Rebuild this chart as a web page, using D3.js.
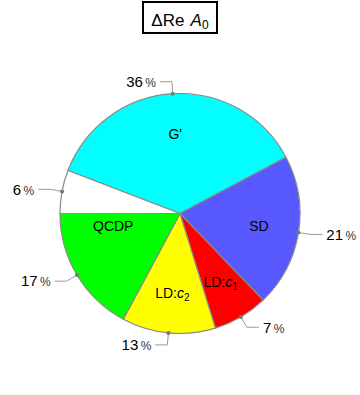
<!DOCTYPE html>
<html>
<head>
<meta charset="utf-8">
<script src="https://cdn.jsdelivr.net/npm/d3@7"></script>
<style>
  body { margin: 0; background: #fff; }
  svg text { font-family: "Liberation Sans", Arial, sans-serif; }
</style>
</head>
<body>
<svg id="chart" width="360" height="395"></svg>
<script>
// slice data, clockwise from the G' slice
const names = ["G'", "SD", "LD:c1", "LD:c2", "QCDP", ""]
const shares = [36.4, 20.6, 7.4, 12.6, 17.2, 5.8]
const colors = ["#00ffff", "#5858ff", "#ff0000", "#ffff00", "#00ff00", "#ffffff"]

const svg = d3.select('#chart')
const cx = 180, cy = 213.5, radius = 120
const startDeg = -69

// title box
svg.append('rect')
  .attr('x', 143).attr('y', 2)
  .attr('width', 74).attr('height', 31)
  .attr('fill', 'none').attr('stroke', '#000').attr('stroke-width', 2)

let title = svg.append('text')
  .attr('x', 180).attr('y', 26)
  .attr('text-anchor', 'middle')
  .attr('font-size', 17)
title.append('tspan').text('\u0394Re \u200a')
title.append('tspan').attr('font-style', 'italic').text('A')
title.append('tspan').attr('font-size', 12).attr('dy', 3).text('0')

const pie = d3.pie()
  .sort(null)
  .value(d => d)
  .startAngle(startDeg * Math.PI / 180)
  .endAngle(startDeg * Math.PI / 180 + 2 * Math.PI)

const arcs = pie(shares)
const arc = d3.arc().innerRadius(0).outerRadius(radius)

const g = svg.append('g').attr('transform', `translate(${cx}, ${cy})`)

g.selectAll('path.slice')
  .data(arcs)
  .enter()
  .append('path')
  .attr('class', 'slice')
  .attr('d', arc)
  .attr('fill', (d, i) => colors[i])
  .attr('stroke', '#8a8a8a')
  .attr('stroke-width', 1.2)

const polar = (r, a) => [r * Math.sin(a), -r * Math.cos(a)]
const mid = d => (d.startAngle + d.endAngle) / 2

// labels inside slices (QCDP sits a bit higher, as in the original)
const labelShift = { "QCDP": [20 * Math.PI / 180, 68] }

arcs.forEach((d, i) => {
  if (!names[i]) return
  let a = mid(d), r = 80
  if (labelShift[names[i]]) { a += labelShift[names[i]][0]; r = labelShift[names[i]][1] }
  const [x, y] = polar(r, a)
  let t = g.append('text')
    .attr('x', x).attr('y', y)
    .attr('dy', '0.35em')
    .attr('text-anchor', 'middle')
    .attr('font-size', 14)
  if (names[i].startsWith('LD:')) {
    t.append('tspan').text('LD:')
    t.append('tspan').attr('font-style', 'italic').text('c')
    t.append('tspan').attr('font-size', 10).attr('dy', 3).text(names[i].slice(4))
  } else {
    t.text(names[i])
  }
})

// callouts with percentages
arcs.forEach((d, i) => {
  const a = mid(d)
  const p0 = polar(radius, a)
  const p1 = polar(radius + 12, a)
  const side = p1[0] < 0 ? -1 : 1
  const p2 = [p1[0] + side * 12, p1[1]]

  g.append('path')
    .attr('d', d3.line()([p0, p1, p2]))
    .attr('fill', 'none')
    .attr('stroke', '#9a9a9a')
    .attr('stroke-width', 1)

  g.append('circle')
    .attr('cx', p0[0]).attr('cy', p0[1])
    .attr('r', 2)
    .attr('fill', '#777')

  let t = g.append('text')
    .attr('x', p2[0] + side * 4).attr('y', p2[1])
    .attr('dy', '0.35em')
    .attr('text-anchor', side < 0 ? 'end' : 'start')
    .attr('font-size', 15)
  t.append('tspan').text(d3.format('.0f')(shares[i]))
  t.append('tspan').attr('font-size', 12).attr('fill', '#333').text('\u2009%')
})
</script>
</body>
</html>
